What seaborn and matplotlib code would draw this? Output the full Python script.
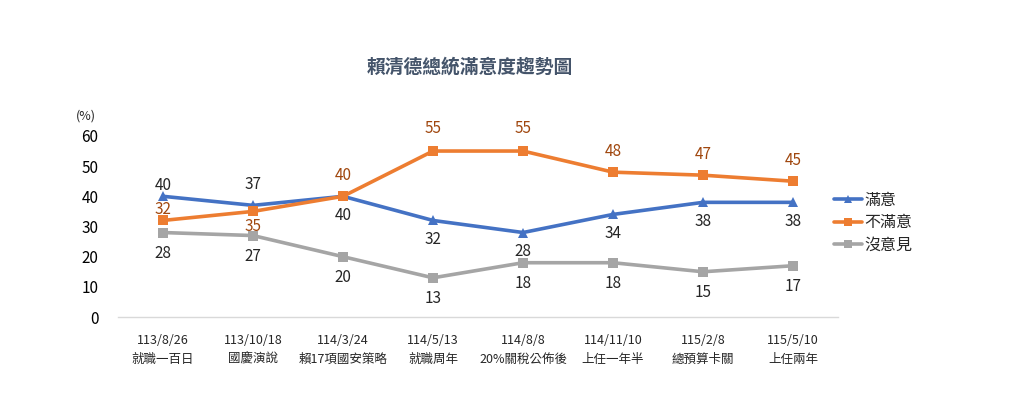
import matplotlib
matplotlib.use("Agg")
import matplotlib.pyplot as plt
import seaborn as sns
import pandas as pd

dates = ["113/8/26", "113/10/18", "114/3/24", "114/5/13", "114/8/8", "114/11/10", "115/2/8", "115/5/10"]
events = ["就職一百日", "國慶演說", "賴17項國安策略", "就職周年", "20%關稅公佈後", "上任一年半", "總預算卡關", "上任兩年"]
satisfied = [40, 37, 40, 32, 28, 34, 38, 38]
dissatisfied = [32, 35, 40, 55, 55, 48, 47, 45]
no_opinion = [28, 27, 20, 13, 18, 18, 15, 17]
series_names = ["滿意", "不滿意", "沒意見"]

sns.set_theme(style="white")
plt.rcParams['font.family'] = ['Noto Sans CJK TC', 'DejaVu Sans']

rows = []
for name, vals in zip(series_names, [satisfied, dissatisfied, no_opinion]):
    for i, v in enumerate(vals):
        rows.append({"x": i, "value": v, "series": name})
df = pd.DataFrame(rows)

colors = {"滿意": "#4472C4", "不滿意": "#ED7D31", "沒意見": "#A5A5A5"}
markers = {"滿意": "^", "不滿意": "s", "沒意見": "s"}

fig = plt.figure(figsize=(10.12, 4.07), dpi=100)
ax = fig.add_axes([0.1166, 0.221, 0.7115, 0.445])

sns.lineplot(data=df, x="x", y="value", hue="series", style="series",
             palette=colors, markers=markers, dashes=False, linewidth=2.6,
             markersize=7, markeredgewidth=0, ax=ax, legend=True)

ax.set_xlim(-0.5, 7.5)
ax.set_ylim(0, 60)
ax.set_yticks(range(0, 61, 10))
ax.set_xticks(range(len(dates)))
ax.set_xticklabels([f"{d}\n{e}" for d, e in zip(dates, events)], fontsize=9,
                   color="#262626", linespacing=1.6)
ax.tick_params(axis="y", labelsize=11, colors="#000000", length=0, pad=14)
ax.tick_params(axis="x", length=0, pad=12)
ax.set_xlabel("")
ax.set_ylabel("")
for s in ["top", "right", "left"]:
    ax.spines[s].set_visible(False)
ax.spines["bottom"].set_color("#D9D9D9")
ax.spines["bottom"].set_linewidth(1)

# data labels (offsets in points)
sat_off = [8, 15, -14, -14, -14, -14, -14, -14]
dis_off = [8, -11, 15, 16, 16, 15, 15, 15]
for i, v in enumerate(satisfied):
    ax.annotate(str(v), (i, v), xytext=(0, sat_off[i]), textcoords="offset points",
                ha="center", va="center", fontsize=11, color="#262626")
for i, v in enumerate(dissatisfied):
    ax.annotate(str(v), (i, v), xytext=(0, dis_off[i]), textcoords="offset points",
                ha="center", va="center", fontsize=11, color="#A0470E")
for i, v in enumerate(no_opinion):
    ax.annotate(str(v), (i, v), xytext=(0, -15), textcoords="offset points",
                ha="center", va="center", fontsize=11, color="#262626")

fig.text(0.075, 0.715, "(%)", fontsize=9, color="#262626", ha="left", va="center")
fig.text(0.464, 0.835, "賴清德總統滿意度趨勢圖", fontsize=13.5, fontweight="bold",
         color="#44546A", ha="center", va="center")

handles, labels = ax.get_legend_handles_labels()
leg = ax.legend(handles, labels, loc="center left", bbox_to_anchor=(0.975, 0.52),
                frameon=False, fontsize=11.5, handlelength=1.7, handletextpad=0.15,
                labelspacing=0.35, markerscale=0.8)
for t in leg.get_texts():
    t.set_color("#262626")

fig.savefig("out.png", dpi=100)
